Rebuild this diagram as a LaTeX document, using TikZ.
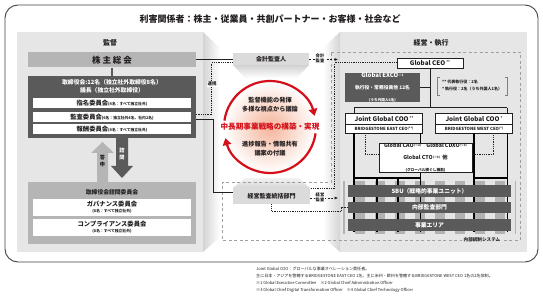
\documentclass[tikz,border=0pt]{standalone}
\usepackage{fontspec}
\setmainfont{Noto Sans CJK JP}
\usetikzlibrary{arrows.meta,calc,shadings}
\definecolor{dk}{HTML}{5A5A5A}
\definecolor{md}{HTML}{B5B5B5}
\definecolor{lt}{HTML}{E6E6E6}
\definecolor{rd}{HTML}{D50F1A}
\definecolor{tx}{HTML}{231F20}
\definecolor{peach}{HTML}{F4B49A}
\newcommand\fs[2]{\fontsize{#1}{#2}\selectfont}
\tikzset{
 lbl/.style={inner sep=0, text=tx},
 whitebox/.style={fill=white, minimum width=158, inner sep=0, text=tx},
 darkbox/.style={fill=dk, text=white, inner sep=0},
 framebox/.style={draw=tx, line width=0.8, fill=white, inner sep=0, text=tx},
 conn/.style={line width=1.0, draw=tx},
 dotc/.style={line width=1.0, draw=tx, dash pattern=on 0.9pt off 0.9pt},
 dashc/.style={line width=0.6, draw=gray!75, dash pattern=on 3pt off 2.5pt},
 heavy/.style={line width=1.8, draw=black},
 darr/.style={tx, line width=0.7, dash pattern=on 2pt off 1.5pt, -{Latex[length=3.5pt,width=3.2pt]}},
 redarc/.style={rd, line width=2.2, -{Triangle[length=7pt,width=8.5pt]}},
}
\begin{document}
\begin{tikzpicture}[x=1pt,y=-1pt]
\useasboundingbox (0,0) rectangle (543,299);
\fill[white] (0,0) rectangle (543,299);

% panels and walls
\fill[lt] (17,32) rectangle (203,252);
\fill[lt] (340,32) rectangle (527,252);
\shade[left color=black!17, right color=white] (203,32) -- (220,48) -- (220,237) -- (203,252) -- cycle;
\shade[left color=white, right color=black!17] (340,32) -- (323,48) -- (323,237) -- (340,252) -- cycle;

% outer frame
\draw[tx!85, line width=0.9, rounded corners=13] (5,5) rectangle (538,262);

% title
\node[lbl, font=\fs{9}{10}\bfseries] (title) at (270,19) {利害関係者：株主・従業員・共創パートナー・お客様・社会など};

% ---------- left: supervision ----------
\node[lbl, font=\fs{7}{8}\bfseries] (kantoku) at (110,43) {監督};
\node[fill=md, minimum width=168, minimum height=15, inner sep=0, text=tx, font=\fs{8.5}{9}\bfseries] (agm) at (112,60) {株 主 総 会};
\node[fill=dk, minimum width=168, minimum height=62, inner sep=0] (board) at (112,107) {};
\node[lbl, text=white, font=\fs{5.8}{8}\bfseries, align=center] (boardtxt) at (112,86) {取締役会:12名（独立社外取締役8名）\\議長（独立社外取締役）};
\node[whitebox, minimum height=10, font=\fs{6.3}{7}\bfseries] (nom) at (112,103) {指名委員会{\fs{3.8}{4}(4名：すべて独立社外)}};
\node[whitebox, minimum height=10, font=\fs{6.3}{7}\bfseries] (aud) at (112,117) {監査委員会{\fs{3.8}{4}(6名：独立社外4名、社内2名)}};
\node[whitebox, minimum height=10, font=\fs{6.3}{7}\bfseries] (comp) at (112,129.5) {報酬委員会{\fs{3.8}{4}(4名：すべて独立社外)}};
\draw[dk, line width=2] (agm.south) -- (board.north);

% block arrows
\fill[md] (97,182) -- (97,153) -- (91,153) -- (102.5,142) -- (114,153) -- (108,153) -- (108,182) -- cycle;
\fill[dk] (116,138) -- (116,166) -- (111,166) -- (122,178) -- (133,166) -- (128,166) -- (128,138) -- cycle;
\node[lbl, font=\fs{5.2}{6.5}\bfseries, align=center] (toshin) at (102.5,161) {答\\申};
\node[lbl, text=white, font=\fs{5.2}{6.5}\bfseries, align=center] (shimon) at (122,154) {諮\\問};

\node[fill=md, minimum width=168, minimum height=62, inner sep=0] (adv) at (112,213) {};
\node[lbl, font=\fs{5.8}{6}\bfseries] (advt) at (112,192) {取締役会諮問委員会};
\node[whitebox, minimum height=17, align=center, font=\fs{6.3}{7}\bfseries] (gov) at (112,207.5) {ガバナンス委員会\\[-1pt]{\fs{3.8}{5}(8名：すべて独立社外)}};
\node[whitebox, minimum height=17, align=center, font=\fs{6.3}{7}\bfseries] (cmp) at (112,227.5) {コンプライアンス委員会\\[-1pt]{\fs{3.8}{5}(8名：すべて独立社外)}};

% ---------- center ----------
\shade[top color=black!18, bottom color=white] (233,65) -- (309,65) -- (297,78) -- (245,78) -- cycle;
\node[fill=black!14, minimum width=76, minimum height=12, inner sep=0, text=tx, font=\fs{6}{6}\bfseries] (auditor) at (271,59.5) {会計監査人};
\shade[top color=black!5, bottom color=black!16] (245,178) -- (298,178) -- (310,188) -- (233,188) -- cycle;
\node[fill=black!14, minimum width=77, minimum height=16, inner sep=0, text=tx, font=\fs{6}{6}\bfseries] (aud2) at (271.5,196) {経営監査統括部門};

\node[circle, minimum size=92, inner sep=0, shade, inner color=peach, outer color=white] (circ) at (270,127) {};
\draw[redarc] ($(circ.center)+(-172:46)$) arc[start angle=-172, end angle=-14, radius=46];
\draw[redarc] ($(circ.center)+(8:46)$) arc[start angle=8, end angle=166, radius=46];
\node[lbl, font=\fs{6.2}{9}\bfseries, align=center] (c1) at (270,104.5) {監督機能の発揮\\多様な視点から議論};
\node[lbl, text=rd, font=\fs{7.6}{8}\bfseries] (c2) at (270,127) {中長期事業戦略の構築・実現};
\node[lbl, font=\fs{6.2}{9}\bfseries, align=center] (c3) at (270,148.5) {進捗報告・情報共有\\議案の付議};

% ---------- right: management ----------
\node[lbl, font=\fs{7}{8}\bfseries] (keiei) at (431,43) {経営・執行};
\draw[dashc] (331,52) -- (520,52) -- (520,240) -- (222,240) -- (222,182) -- (331,182) -- cycle;
\node[lbl, fill=lt, inner xsep=2, font=\fs{4.6}{5}\bfseries] (naibu) at (482,240) {内部統制システム};

\node[framebox, minimum width=66, minimum height=10, font=\fs{6.3}{7}\bfseries] (ceo) at (430,63) {Global CEO\,\raisebox{1.5pt}{\fs{3.5}{4}**}};
\node[darkbox, minimum width=75, minimum height=25, align=center] (exco) at (382.5,87.5) {{\fs{6}{7}\bfseries Global EXCO\raisebox{1.5pt}{\fs{3.3}{4}※1}}\\{\fs{4.8}{6.5}\bfseries 執行役・常務役員他 12名}\\{\fs{3.6}{5}\bfseries (うち外国人6名)}};
\node[lbl, anchor=west, align=left, font=\fs{4}{7}\bfseries] (note) at (442,85.5) {** 代表執行役：2名\\* 執行役：2名（うち外国人1名）};
\draw[gray, line width=0.5] (440,77) -- (437.5,77) -- (437.5,95) -- (440,95);
\draw[gray, line width=0.5] (505,77) -- (507.5,77) -- (507.5,95) -- (505,95);

\node[framebox, minimum width=77, minimum height=11, font=\fs{6.3}{7}\bfseries] (cooL) at (384,118.5) {Joint Global COO\,\raisebox{1.5pt}{\fs{3.5}{4}**}};
\node[framebox, minimum width=77, minimum height=9, font=\fs{4.3}{5}\bfseries] (eastL) at (384,128.5) {BRIDGESTONE EAST CEO\raisebox{1pt}{\fs{3}{3}(**)}};
\node[framebox, minimum width=77, minimum height=11, font=\fs{6.3}{7}\bfseries] (cooR) at (474,118.5) {Joint Global COO\,\raisebox{1.5pt}{\fs{3.5}{4}*}};
\node[framebox, minimum width=77, minimum height=9, font=\fs{4.3}{5}\bfseries] (westR) at (474,128.5) {BRIDGESTONE WEST CEO\raisebox{1pt}{\fs{3}{3}(*)}};

\coordinate (busc) at (430,108);
\coordinate (busL) at (354,108);
\coordinate (busR) at (507,108);
\draw[conn] (ceo.south) -- (busc);
\draw[conn] (exco.east) -- (exco.east -| busc);
\draw[conn] (busL) -- (busR);
\draw[conn] (busL) -- (busL |- cooL.north);
\draw[conn] (busR) -- (busR |- cooR.north);

% stripes background of the stack
\fill[black!30] (343,181) rectangle (516,234);
\foreach \k in {0,...,8} { \fill[black!10] ({345+20*\k},181) rectangle ++(10,53); }

% heavy lines
\coordinate (stk) at (0,232);
\coordinate (brk) at (0,178);
\coordinate (l1) at ($(eastL.south west)+(9,0)$);
\coordinate (l2) at ($(eastL.south east)+(-2.5,0)$);
\coordinate (r1) at (westR.south);
\coordinate (r2) at ($(westR.south east)+(-5.5,0)$);
\coordinate (m1) at (377,178);
\coordinate (m2) at (398,178);
\draw[heavy] (l1) -- (l1 |- stk);
\draw[heavy] (l2) -- (l2 |- stk);
\draw[heavy] (l1 |- brk) -- (l2 |- brk);
\draw[heavy] (m1) -- (m1 |- stk);
\draw[heavy] (m2) -- (m2 |- stk);
\draw[heavy] (r1) -- (r1 |- stk);
\draw[heavy] (r2) -- (r2 |- stk);
\draw[heavy] (r1 |- brk) -- (r2 |- brk);

\node[darkbox, minimum width=163, minimum height=12, font=\fs{5.8}{6}\bfseries] (sbu) at (429.5,191) {SBU（戦略的事業ユニット）};
\node[darkbox, minimum width=163, minimum height=11, font=\fs{5.8}{6}\bfseries] (iad) at (429.5,207.5) {内部監査部門};
\node[darkbox, minimum width=163, minimum height=12, font=\fs{5.8}{6}\bfseries] (area) at (429.5,225) {事業エリア};

\node[framebox, minimum width=93, minimum height=28, align=center] (cfunc) at (425.5,158) {{\fs{5.3}{7.5}\bfseries Global CAO\raisebox{1.2pt}{\fs{3}{3}(※2)}\quad Global CDXO\raisebox{1.2pt}{\fs{3}{3}(※3)}}\\{\fs{5.3}{7.5}\bfseries Global CTO\raisebox{1.2pt}{\fs{3}{3}(※4)}\ \ 他}\\{\fs{3.7}{8}\bfseries (グローバル横ぐし機能)}};
\draw[dotc] ($(eastL.south west)+(20,0)$) |- ([yshift=3pt]cfunc.west);
\draw[dotc] ($(westR.south east)+(-19,0)$) |- ([yshift=3pt]cfunc.east);

% ---------- connectors across ----------
\draw[conn] (agm.east) -- (agm.east -| auditor.west);
\draw[dotc] ([yshift=-3.5pt]auditor.west) -- ++(-21,0) |- ([yshift=2pt]board.east |- aud.center);
\draw[conn] ([yshift=-3pt]board.east |- aud.center) -- ++(17,0) |- ([yshift=3pt]aud2.west);
\node[lbl, fill=white, inner sep=0.6, font=\fs{4.5}{5}\bfseries] (renkei) at (212,84) {連携};

\coordinate (ctrlA) at (338,59.5);
\draw[darr] (auditor.east) -- (ctrlA);
\node[lbl, fill=white, inner sep=0.5, font=\fs{4.3}{4.8}\bfseries, align=center] (kaikeiK) at (320,58) {会計\\監査};
\coordinate (ctrlB) at (338,198);
\draw[darr] ([yshift=-2pt]aud2.east) -- (ctrlB);
\node[lbl, fill=white, inner sep=0.5, font=\fs{4.3}{4.8}\bfseries, align=center] (keieiK) at (320,197) {経営\\監査};

\coordinate (cj) at (334.5,189);
\draw[dotc] (ceo.west) -| (cj) -- (cj -| aud2.east);
\draw[dotc] (aud2.south) -- ++(0,7) -| ($(iad.west)+(-6,0)$) -- (iad.west);

% footnotes
\node[lbl, anchor=north west, align=left, font=\fs{4.05}{7}] (foot) at (256,266.5) {Joint Global COO：グローバルな事業オペレーション責任者。\\主に日本・アジアを管轄するBRIDGESTONE EAST CEO 1名、主に米州・欧州を管轄するBRIDGESTONE WEST CEO 1名の2名体制。\\※1 Global Executive Committee　※2 Global Chief Administration Officer\\※3 Global Chief Digital Transformation Officer　※4 Global Chief Technology Officer};
\end{tikzpicture}
\end{document}
